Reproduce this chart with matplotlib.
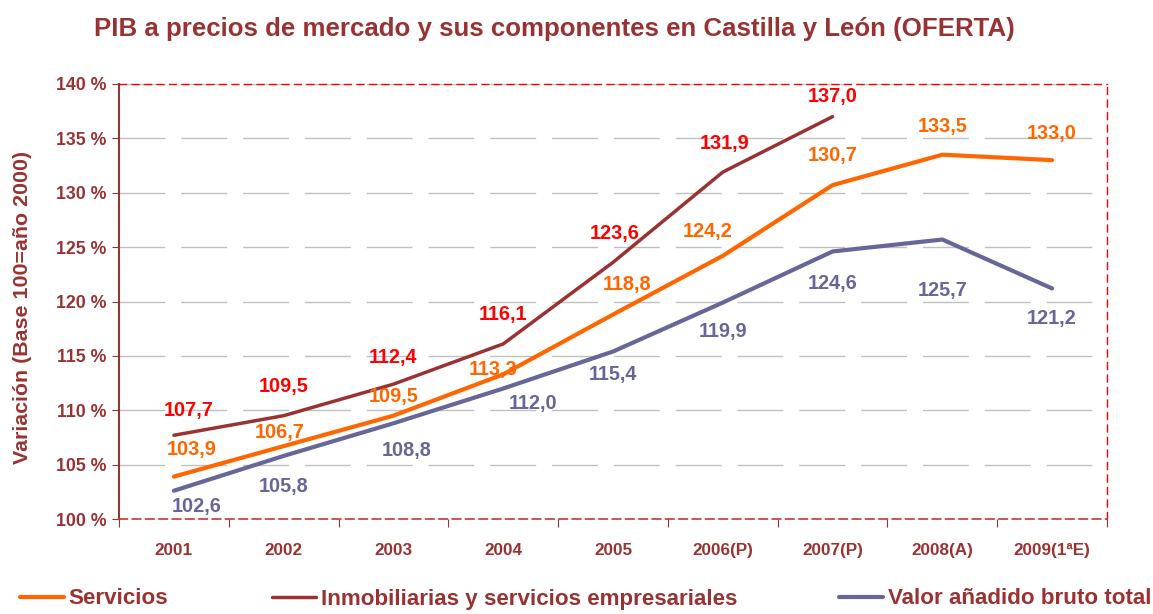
import matplotlib
matplotlib.use('Agg')
import matplotlib.pyplot as plt

plt.rcParams['font.family'] = ['Liberation Sans', 'DejaVu Sans']
plt.rcParams['font.weight'] = 'bold'

years = ['2001', '2002', '2003', '2004', '2005', '2006(P)', '2007(P)', '2008(A)', '2009(1ªE)']
servicios = [103.9, 106.7, 109.5, 113.3, 118.8, 124.2, 130.7, 133.5, 133.0]
inmobiliarias = [107.7, 109.5, 112.4, 116.1, 123.6, 131.9, 137.0]
vab_total = [102.6, 105.8, 108.8, 112.0, 115.4, 119.9, 124.6, 125.7, 121.2]
y_ticks = [100, 105, 110, 115, 120, 125, 130, 135, 140]

DARK = '#993333'
ORANGE = '#FF6600'
PURPLE = '#666699'
RED = '#FF0000'

# label offsets in screen pixels (dx, dy down-positive)
off_inm = [(15, -25), (0, -29), (0, -27), (0, -29), (2, -29), (2, -29), (0, -20)]
off_serv = [(18, -27), (-4, -14), (0, -19), (-10, -5), (14, -30), (-15, -24), (0, -30), (0, -28), (0, -27)]
off_vab = [(23, 16), (0, 31), (13, 27), (30, 15), (0, 23), (0, 29), (0, 32), (0, 51), (0, 30)]

fig = plt.figure(figsize=(11.53, 6.14), dpi=100)
ax = fig.add_axes([119 / 1153, 1 - 519 / 614, (1107 - 119) / 1153, (519 - 84) / 614])

x = list(range(len(years)))
l_serv, = ax.plot(x, servicios, color=ORANGE, lw=3, solid_capstyle='round', solid_joinstyle='round', zorder=3)
l_inm, = ax.plot(x[:len(inmobiliarias)], inmobiliarias, color=DARK, lw=2.5, solid_capstyle='round', solid_joinstyle='round', zorder=3)
l_vab, = ax.plot(x, vab_total, color=PURPLE, lw=3, solid_capstyle='round', solid_joinstyle='round', zorder=3)

def labels(vals, offs, color):
    for i, (v, (dx, dy)) in enumerate(zip(vals, offs)):
        ax.annotate(f'{v:.1f}'.replace('.', ','), (i, v), xytext=(dx, -dy),
                    textcoords='offset pixels', ha='center', va='center',
                    fontsize=14.3, fontweight='bold', color=color, zorder=4)

labels(inmobiliarias, off_inm, RED)
labels(servicios, off_serv, ORANGE)
labels(vab_total, off_vab, PURPLE)

ax.set_xlim(-0.5, len(years) - 0.5)
ax.set_ylim(100, 140)
ax.set_yticks(y_ticks)
ax.set_yticklabels([f'{t} %' for t in y_ticks])
ax.set_xticks([i - 0.5 for i in range(len(years) + 1)])
ax.set_xticklabels([])
ax.set_xticks(x, minor=True)
ax.set_xticklabels(years, minor=True)
ax.tick_params(axis='x', which='minor', length=0, pad=17, labelsize=12.3, labelcolor=DARK)
ax.tick_params(axis='x', which='major', length=6, color=DARK, direction='out')
ax.tick_params(axis='y', length=5, color=DARK, labelsize=12.8, labelcolor=DARK, pad=4)
for lab in ax.get_xticklabels(minor=True) + ax.get_yticklabels():
    lab.set_fontweight('bold')

ax.yaxis.grid(True, color='#C0C0C0', lw=1, linestyle=(0, (33, 11.5)))
ax.set_axisbelow(True)

for side in ['top', 'right']:
    ax.spines[side].set_color(RED)
    ax.spines[side].set_linestyle((0, (5, 4)))
    ax.spines[side].set_linewidth(1)
ax.spines['bottom'].set_color('#CC3333')
ax.spines['bottom'].set_linestyle((0, (5, 3)))
ax.spines['bottom'].set_linewidth(1.2)
ax.spines['left'].set_color(DARK)
ax.spines['left'].set_linewidth(1.5)

fig.text(554 / 1153, 1 - 29 / 614, 'PIB a precios de mercado y sus componentes en Castilla y León (OFERTA)',
         ha='center', va='center', fontsize=18.6, fontweight='bold', color=DARK)
fig.text(23 / 1153, 1 - 307 / 614, 'Variación (Base 100=año 2000)', rotation=90,
         ha='center', va='center', fontsize=15.4, fontweight='bold', color=DARK)

for h, lab, xp in [(l_serv, 'Servicios', 20), (l_inm, 'Inmobiliarias y servicios empresariales', 272),
                   (l_vab, 'Valor añadido bruto total', 839)]:
    fig.legend([h], [lab], loc='center left', bbox_to_anchor=(xp / 1153, 1 - 599 / 614),
               frameon=False, borderpad=0, borderaxespad=0, handlelength=1.99, handletextpad=0.18,
               prop={'size': 16.1, 'weight': 'bold'}, labelcolor=DARK)

fig.savefig('out.png', dpi=100)
